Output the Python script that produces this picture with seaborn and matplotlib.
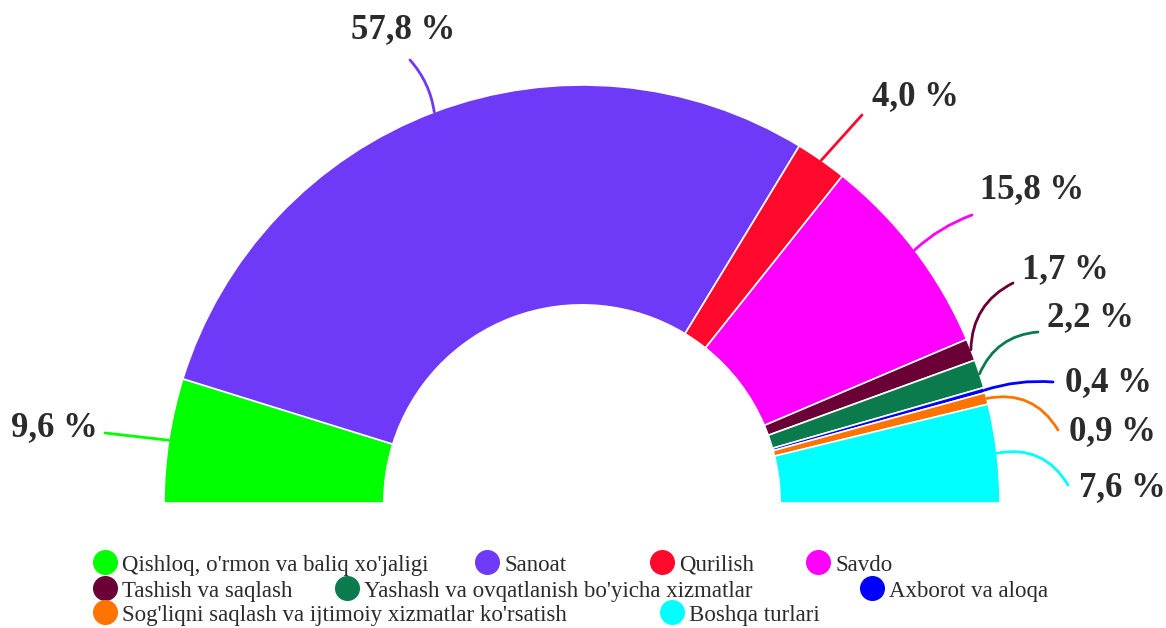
import numpy as np
import matplotlib
matplotlib.use("Agg")
import matplotlib.pyplot as plt
from matplotlib.lines import Line2D
import seaborn as sns

categories = ["Qishloq, o'rmon va baliq xo'jaligi", "Sanoat", "Qurilish", "Savdo",
              "Tashish va saqlash", "Yashash va ovqatlanish bo'yicha xizmatlar",
              "Axborot va aloqa", "Sog'liqni saqlash va ijtimoiy xizmatlar ko'rsatish",
              "Boshqa turlari"]
values = [9.6, 57.8, 4.0, 15.8, 1.7, 2.2, 0.4, 0.9, 7.6]
labels = ["9,6 %", "57,8 %", "4,0 %", "15,8 %", "1,7 %", "2,2 %", "0,4 %", "0,9 %", "7,6 %"]
colors = ["#00ff00", "#6f3af7", "#ff0a2c", "#ff00ff", "#6b0036",
          "#0b7a4c", "#0000ff", "#ff7300", "#00ffff"]

sns.set_theme(style="white")
plt.rcParams['font.family'] = ['Liberation Serif', 'DejaVu Serif']

W, H = 1166, 628
fig = plt.figure(figsize=(W / 100, H / 100), dpi=100)
ax = fig.add_axes([0, 0, 1, 1])

CX, CY, RPX = 582, 503, 418  # layout: centre and radius in pixels
R_IN = 0.474


def px(x, y):
    return ((x - CX) / RPX, (CY - y) / RPX)


total = sum(values)
wedges, _ = ax.pie(values + [total], colors=colors + ["white"], startangle=180,
                   counterclock=False, radius=1.0,
                   wedgeprops=dict(width=1 - R_IN, edgecolor="white", linewidth=1.2))
wedges[-1].set_visible(False)

# label layout (pixel positions of text centre and leader-line end)
text_pos = [(54, 428), (403, 30), (915, 97), (1032, 190), (1065, 270),
            (1090, 318), (1108, 383), (1112, 432), (1122, 488)]
line_end = [(105, 433), (410, 60), (862, 115), (972, 215), (1013, 283),
            (1038, 332), (1053, 382), (1058, 430), (1068, 485)]
rads = [0.0, -0.15, 0.0, 0.1, 0.3, 0.3, 0.1, 0.35, 0.35]

cum = 0.0
for i, v in enumerate(values):
    mid = cum + v / 2
    cum += v
    ang = np.deg2rad(180 - 180 * mid / total)
    ex, ey = np.cos(ang), np.sin(ang)
    lx, ly = px(*line_end[i])
    ax.annotate("", xy=(ex, ey), xytext=(lx, ly),
                arrowprops=dict(arrowstyle="-", color=colors[i], lw=2,
                                shrinkA=0, shrinkB=0,
                                connectionstyle=f"arc3,rad={rads[i]}"))
    tx, ty = px(*text_pos[i])
    ax.text(tx, ty, labels[i], ha="center", va="center", fontsize=25,
            fontweight="bold", color="#2b2b2b")

x0, y0 = px(0, H)
x1, y1 = px(W, 0)
ax.set_xlim(x0, x1)
ax.set_ylim(y0, y1)
ax.set_aspect("auto")
ax.axis("off")

# legend layout: marker centres in pixels
leg_pos = [(105, 565), (487, 565), (662, 565), (818, 565),
           (105, 591), (347, 591), (872, 591),
           (105, 615), (672, 615)]
fs = 16.5
hl_px = 1.0 * fs * 100 / 72
for i, cat in enumerate(categories):
    mx, my = leg_pos[i]
    h = Line2D([], [], marker="o", linestyle="none", markersize=17,
               markerfacecolor=colors[i], markeredgecolor=colors[i])
    lg = fig.legend(handles=[h], labels=[cat], loc="center left",
                    bbox_to_anchor=((mx - hl_px / 2) / W, 1 - my / H),
                    frameon=False, fontsize=fs, handlelength=1.0,
                    handletextpad=0.25, borderpad=0, borderaxespad=0)
    for t in lg.get_texts():
        t.set_color("#2b2b2b")

fig.savefig("out.png", dpi=100, facecolor="white")
